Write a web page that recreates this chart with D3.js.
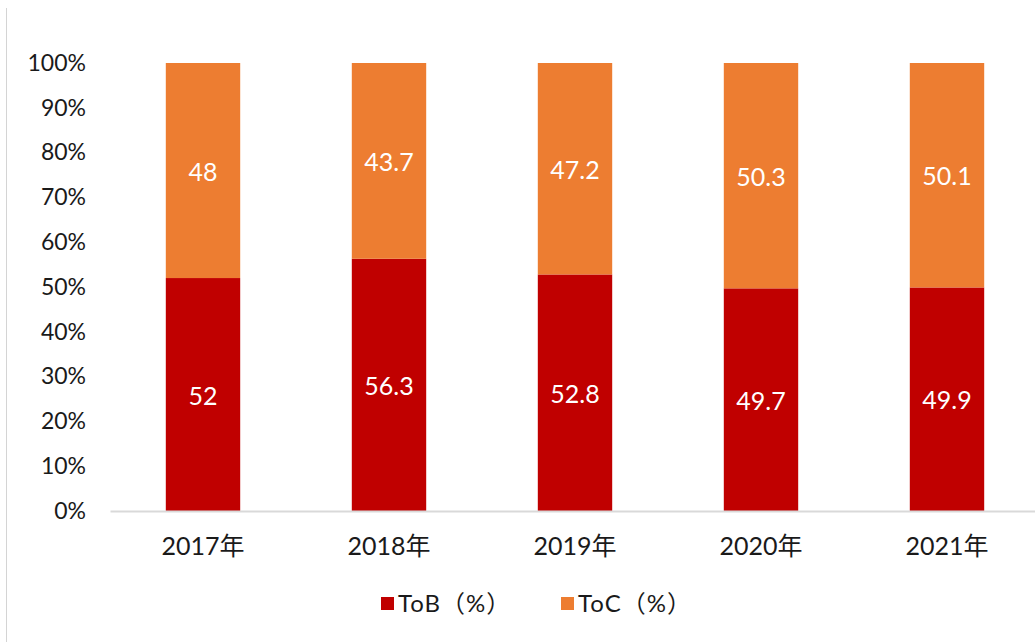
<!DOCTYPE html>
<html lang="zh">
<head>
    <meta charset="UTF-8">
    <title>ToB / ToC</title>
    <script src="https://d3js.org/d3.v7.min.js"></script>
    <style>
        body { margin: 0; background: #fff; }
        svg text { font-family: Lato, "Noto Sans CJK SC", sans-serif; fill: #1a1a1a; }
        .lbl { fill: #fff !important; }
    </style>
</head>
<body>
    <div id="chart"></div>
    <script>
        const years = ["2017年", "2018年", "2019年", "2020年", "2021年"];
        const toB = [52, 56.3, 52.8, 49.7, 49.9];
        const toC = [48, 43.7, 47.2, 50.3, 50.1];
        const yTicks = [0, 10, 20, 30, 40, 50, 60, 70, 80, 90, 100];
        const seriesNames = ["ToB（%）", "ToC（%）"];
        const colors = ["#C00000", "#ED7D31"];

        const svg = d3.select("#chart").append("svg")
            .attr("width", 1035).attr("height", 642);

        // frame line on the left
        svg.append("line")
            .attr("x1", 6.5).attr("x2", 6.5).attr("y1", 8).attr("y2", 642)
            .attr("stroke", "#d4d4d4").attr("stroke-width", 1);

        const x = d3.scaleBand().domain(years).range([110, 1040])
            .paddingInner(0.6).paddingOuter(0.3);
        const y = d3.scaleLinear().domain([0, 100]).range([511, 63]);

        // y axis labels
        const yAxis = svg.append("g").attr("transform", "translate(92,0)")
            .call(d3.axisLeft(y).tickValues(yTicks).tickFormat(d => d + "%").tickSize(0).tickPadding(6));
        yAxis.select(".domain").remove();
        yAxis.selectAll("text").style("font-size", "23px");

        const rows = years.map((yr, i) => ({ yr, b: toB[i], c: toC[i] }));

        svg.append("g").selectAll("rect").data(rows).enter().append("rect")
            .attr("x", d => x(d.yr)).attr("width", x.bandwidth())
            .attr("y", d => y(d.b)).attr("height", d => y(0) - y(d.b))
            .attr("fill", colors[0]);

        svg.append("g").selectAll("rect").data(rows).enter().append("rect")
            .attr("x", d => x(d.yr)).attr("width", x.bandwidth())
            .attr("y", d => y(d.b + d.c)).attr("height", d => y(d.b) - y(d.b + d.c))
            .attr("fill", colors[1]);

        // x axis
        const xAxis = svg.append("g").attr("transform", "translate(0,511)")
            .call(d3.axisBottom(x).tickSize(0).tickPadding(26));
        xAxis.select(".domain").attr("stroke", "#d9d9d9").attr("stroke-width", 2);
        xAxis.selectAll("text").style("font-size", "25px");

        // value labels
        const lbl = svg.append("g").attr("class", "labels");
        lbl.selectAll(".lb").data(rows).enter().append("text")
            .attr("class", "lbl").attr("text-anchor", "middle").attr("dy", "0.4em")
            .attr("x", d => x(d.yr) + x.bandwidth() / 2)
            .attr("y", d => y(d.b / 2))
            .style("font-size", "25px").text(d => d.b);
        lbl.selectAll(".lc").data(rows).enter().append("text")
            .attr("class", "lbl").attr("text-anchor", "middle").attr("dy", "0.4em")
            .attr("x", d => x(d.yr) + x.bandwidth() / 2)
            .attr("y", d => y(d.b + d.c / 2))
            .style("font-size", "25px").text(d => d.c);

        // legend
        const legX = [381, 561];
        const leg = svg.append("g");
        seriesNames.forEach((s, i) => {
            leg.append("rect").attr("x", legX[i]).attr("y", 597).attr("width", 13).attr("height", 13)
                .attr("fill", colors[i]);
            leg.append("text").attr("x", legX[i] + 17).attr("y", 604).attr("dy", "0.35em")
                .style("font-size", "24px").style("letter-spacing", "1px").text(s);
        });
    </script>
</body>
</html>
